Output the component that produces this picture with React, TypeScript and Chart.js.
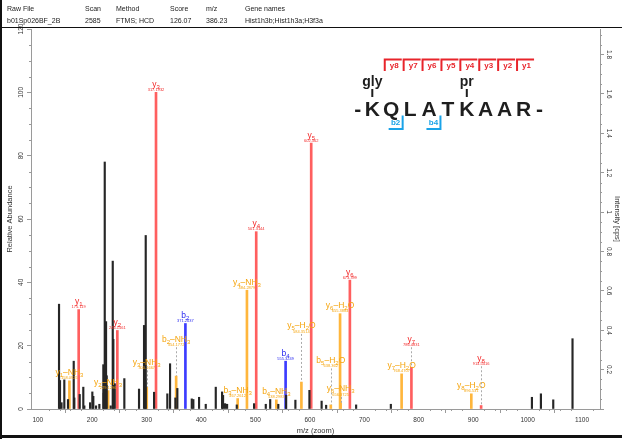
import React, { useEffect, useRef } from 'react';
import { Chart, registerables } from 'chart.js';

Chart.register(...registerables);

// ---------------- data ----------------
// unannotated peaks (m/z, relative abundance %)
const otherMz = [
  139.0, 140.8, 143.6, 148.7, 155.5, 166.0, 167.1, 177.0, 183.6, 185.5,
  196.0, 200.2, 202.0, 207.0, 213.1, 220.4, 221.1, 223.0, 225.4, 226.6,
  234.0, 237.7, 238.8, 241.4, 259.0, 286.0, 295.2, 298.3, 297.6, 313.6,
  338.0, 343.0, 352.8, 356.4, 382.9, 385.8, 396.3, 408.6, 427.0, 438.6,
  440.4, 444.1, 447.8, 465.6, 497.4, 518.9, 527.0, 541.9, 556.3, 573.3,
  599.1, 621.5, 629.8, 684.9, 748.7, 1007.9, 1024.4, 1047.1, 1082.5,
];
const otherInt = [
  33.1, 9.0, 2.0, 9.2, 3.0, 15.1, 3.5, 4.6, 6.9, 1.0,
  2.0, 5.4, 4.0, 1.0, 1.5, 14.0, 5.0, 78.0, 27.6, 10.5,
  1.0, 46.7, 22.0, 8.0, 9.6, 6.3, 26.4, 54.8, 9.0, 5.3,
  4.8, 14.3, 3.5, 6.5, 3.2, 3.0, 3.7, 1.5, 6.9, 5.4,
  4.3, 1.7, 1.5, 1.3, 1.7, 1.5, 3.0, 1.5, 4.3, 2.8,
  5.9, 2.5, 1.2, 1.3, 1.5, 3.7, 4.8, 2.9, 22.2,
];

// y ions
const yIonNames = ['y1', 'y2', 'y3', 'y4', 'y5', 'y6', 'y7', 'y8'];
const yIonMz = [175.119, 246.1561, 317.1932, 501.3144, 602.362, 673.399, 786.4831, 914.5416];
const yIonInt = [31.4, 24.8, 100, 56.0, 84.0, 40.7, 13.2, 1.1];
const yIonLabelAt: (number | null)[] = [null, null, null, null, null, null, 19.5, 13.5];

// b ions
const bIonNames = ['b2', 'b4'];
const bIonMz = [371.2037, 555.3249];
const bIonInt = [27.0, 15.1];
const bIonLabelAt: (number | null)[] = [null, null];

// neutral-loss ions
const lossNames = ['y1-NH3', 'y2-NH3', 'y3-NH3', 'b2-NH3', 'b3-NH3', 'y4-NH3', 'b4-NH3', 'y5-H2O', 'b5-H2O', 'y6-NH3', 'y6-H2O', 'y7-H2O', 'y8-H2O'];
const lossMz = [158.0925, 229.1296, 300.1667, 354.1772, 467.2612, 484.2879, 538.2983, 584.3514, 638.362, 656.3725, 655.3884, 768.4707, 896.531];
const lossInt = [8.9, 5.8, 6.9, 10.4, 3.3, 37.5, 2.9, 8.5, 1.3, 2.0, 30.1, 11.1, 4.8];
const lossLabelAt: (number | null)[] = [null, null, 12.2, 19.5, null, null, null, 23.7, 12.8, 3.8, null, null, null];

// peptide
const peptideSeq = ['K', 'Q', 'L', 'A', 'T', 'K', 'A', 'A', 'R'];
const modPositions = [0, 5];
const modNames = ['gly', 'pr'];
const yObserved = [8, 7, 6, 5, 4, 3, 2, 1];
const bObserved = [2, 4];

// header table
const headerCols = ['Raw File', 'Scan', 'Method', 'Score', 'm/z', 'Gene names'];
const headerVals = ['b01Sp026BF_2B', '2585', 'FTMS; HCD', '126.07', '386.23', 'Hist1h3b;Hist1h3a;H3f3a'];

// ---------------- styles ----------------
const FONT = '"Liberation Sans", Arial, sans-serif';
const RED_BAR = 'rgb(255,95,95)';
const RED_TXT = 'rgb(242,40,40)';
const ORA_BAR = 'rgb(255,182,60)';
const ORA_TXT = 'rgb(245,165,15)';
const BLU_BAR = 'rgb(60,60,255)';
const BLU_TXT = 'rgb(40,40,240)';
const AXIS = '#9a9a9a';

const fmtMass = (v: number) => String(parseFloat(v.toFixed(4)));

function drawIonName(ctx: CanvasRenderingContext2D, name: string, cx: number, baseY: number, color: string) {
  const m = name.match(/^([a-z])(\d+)(?:-(.+))?$/);
  if (!m) return;
  const segs: { t: string; sub: boolean }[] = [{ t: m[1], sub: false }, { t: m[2], sub: true }];
  if (m[3]) {
    segs.push({ t: '\u2013', sub: false });
    for (const ch of m[3]) {
      const isDigit = /\d/.test(ch);
      const last = segs[segs.length - 1];
      if (last.sub === isDigit && segs.length > 2) last.t += ch;
      else segs.push({ t: ch, sub: isDigit });
    }
  }
  const big = `8.5px ${FONT}`;
  const small = `6px ${FONT}`;
  let total = 0;
  const widths = segs.map((s) => {
    ctx.font = s.sub ? small : big;
    const w = ctx.measureText(s.t).width;
    total += w;
    return w;
  });
  let x = cx - total / 2;
  ctx.fillStyle = color;
  ctx.textAlign = 'left';
  ctx.textBaseline = 'alphabetic';
  segs.forEach((s, i) => {
    ctx.font = s.sub ? small : big;
    ctx.fillText(s.t, x, baseY + (s.sub ? 2 : 0));
    x += widths[i];
  });
}

const ionLabelPlugin = {
  id: 'ionLabels',
  afterDatasetsDraw(chart: any) {
    const { ctx, scales } = chart;
    const xs = scales.x;
    const ys = scales.y;
    const groups = [
      { names: lossNames, mz: lossMz, int: lossInt, at: lossLabelAt, color: ORA_TXT },
      { names: bIonNames, mz: bIonMz, int: bIonInt, at: bIonLabelAt, color: BLU_TXT },
      { names: yIonNames, mz: yIonMz, int: yIonInt, at: yIonLabelAt, color: RED_TXT },
    ];
    ctx.save();
    for (const g of groups) {
      g.names.forEach((name, i) => {
        const px = xs.getPixelForValue(g.mz[i]);
        const peakPx = ys.getPixelForValue(g.int[i]);
        const lvl = g.at[i];
        const basePx = lvl == null ? peakPx : ys.getPixelForValue(lvl);
        if (lvl != null && lvl - g.int[i] > 1.5) {
          ctx.save();
          ctx.strokeStyle = '#aaaaaa';
          ctx.lineWidth = 1;
          ctx.setLineDash([2, 2]);
          ctx.beginPath();
          ctx.moveTo(Math.round(px) + 0.5, basePx);
          ctx.lineTo(Math.round(px) + 0.5, peakPx);
          ctx.stroke();
          ctx.restore();
        }
        ctx.fillStyle = g.color;
        ctx.font = `4px ${FONT}`;
        ctx.textAlign = 'center';
        ctx.textBaseline = 'middle';
        ctx.fillText(fmtMass(g.mz[i]), px, basePx - 2.5);
        drawIonName(ctx, name, px, basePx - 5.5, g.color);
      });
    }
    ctx.restore();
  },
};

const minorTickPlugin = {
  id: 'minorTicks',
  afterDraw(chart: any) {
    const { ctx, scales, chartArea } = chart;
    ctx.save();
    ctx.strokeStyle = AXIS;
    ctx.lineWidth = 1;
    ctx.beginPath();
    const xs = scales.x;
    for (let v = Math.ceil(xs.min / 20) * 20; v <= xs.max; v += 20) {
      if (v % 100 === 0) continue;
      const p = Math.round(xs.getPixelForValue(v)) + 0.5;
      ctx.moveTo(p, chartArea.bottom);
      ctx.lineTo(p, chartArea.bottom + 2);
    }
    const ys = scales.y;
    for (let v = 0; v <= ys.max; v += 5) {
      if (v % 20 === 0) continue;
      const p = Math.round(ys.getPixelForValue(v)) + 0.5;
      ctx.moveTo(chartArea.left, p);
      ctx.lineTo(chartArea.left - 2, p);
    }
    const y2 = scales.y2;
    for (let k = 0; k * 0.05 <= y2.max; k++) {
      if (k % 4 === 0) continue;
      const p = Math.round(y2.getPixelForValue(k * 0.05)) + 0.5;
      ctx.moveTo(chartArea.right, p);
      ctx.lineTo(chartArea.right + 2, p);
    }
    ctx.stroke();
    ctx.restore();
  },
};

const peptidePlugin = {
  id: 'peptide',
  afterDraw(chart: any) {
    const { ctx } = chart;
    const x0 = 372.3;
    const pitch = 18.9;
    const base = 115.5;
    const L = peptideSeq.map((_, i) => x0 + i * pitch);
    ctx.save();
    ctx.fillStyle = '#1e1e1e';
    ctx.textAlign = 'center';
    ctx.textBaseline = 'alphabetic';
    ctx.font = `bold 21px ${FONT}`;
    peptideSeq.forEach((aa, i) => ctx.fillText(aa, L[i], base));
    ctx.fillText('-', L[0] - 14.5, base);
    ctx.fillText('-', L[L.length - 1] + 16, base);
    // modifications
    ctx.font = `bold 14px ${FONT}`;
    modPositions.forEach((p, i) => {
      ctx.fillText(modNames[i], L[p], 86);
      ctx.fillRect(L[p] - 1, 89, 2, 8);
    });
    // y brackets
    ctx.lineWidth = 2;
    ctx.strokeStyle = 'rgb(232,36,43)';
    ctx.fillStyle = 'rgb(232,36,43)';
    ctx.font = `bold 8px ${FONT}`;
    yObserved.forEach((n) => {
      const i = peptideSeq.length - n;
      const vx = (L[i - 1] + L[i]) / 2 + 3;
      ctx.beginPath();
      ctx.moveTo(vx, 71);
      ctx.lineTo(vx, 59.5);
      ctx.lineTo(vx + 17, 59.5);
      ctx.stroke();
      ctx.fillText('y' + n, vx + 9.5, 68);
    });
    // b brackets
    ctx.strokeStyle = 'rgb(26,163,232)';
    ctx.fillStyle = 'rgb(26,163,232)';
    bObserved.forEach((n) => {
      const vx = (L[n - 1] + L[n]) / 2 + 2;
      ctx.beginPath();
      ctx.moveTo(vx, 115.5);
      ctx.lineTo(vx, 129);
      ctx.lineTo(vx - 14, 129);
      ctx.stroke();
      ctx.fillText('b' + n, vx - 7, 125);
    });
    ctx.restore();
  },
};

export default function App() {
  const ref = useRef<HTMLCanvasElement | null>(null);

  useEffect(() => {
    if (!ref.current) return;
    const toXY = (mz: number[], it: number[]) => mz.map((x, i) => ({ x, y: it[i] }));
    const chart = new Chart(ref.current, {
      type: 'bar',
      data: {
        datasets: [
          { label: 'other', data: toXY(otherMz, otherInt), backgroundColor: '#262626', barThickness: 1.5, grouped: false } as any,
          { label: 'loss', data: toXY(lossMz, lossInt), backgroundColor: ORA_BAR, barThickness: 2, grouped: false } as any,
          { label: 'b', data: toXY(bIonMz, bIonInt), backgroundColor: BLU_BAR, barThickness: 2, grouped: false } as any,
          { label: 'y', data: toXY(yIonMz, yIonInt), backgroundColor: RED_BAR, barThickness: 2, grouped: false } as any,
        ],
      },
      options: {
        animation: false,
        responsive: false,
        maintainAspectRatio: false,
        layout: { padding: { top: 29, left: 0, right: 0, bottom: 0 } },
        plugins: { legend: { display: false }, tooltip: { enabled: false } },
        scales: {
          x: {
            type: 'linear',
            min: 87.5,
            max: 1133,
            offset: false,
            grid: { drawOnChartArea: false, tickLength: 4, color: AXIS },
            border: { color: AXIS },
            ticks: {
              stepSize: 100,
              includeBounds: false,
              autoSkip: false,
              maxRotation: 0,
              padding: 3,
              color: '#333',
              font: { family: FONT, size: 6.5 },
              callback: (v: any) => String(v),
            },
            title: { display: true, text: 'm/z (zoom)', color: '#333', font: { family: FONT, size: 7.5 }, padding: { top: 0, bottom: 3.5 } },
            afterFit: (s: any) => { s.height = 30; },
          },
          y: {
            position: 'left',
            min: 0,
            max: 120,
            grid: { drawOnChartArea: false, tickLength: 4, color: AXIS },
            border: { color: AXIS },
            ticks: {
              stepSize: 20,
              autoSkip: false,
              minRotation: 90,
              maxRotation: 90,
              crossAlign: 'center',
              padding: 0,
              color: '#333',
              font: { family: FONT, size: 6.5 },
            },
            title: { display: true, text: 'Relative Abundance', color: '#333', font: { family: FONT, size: 7.5 }, padding: { top: 5.5, bottom: 0 } },
            afterFit: (s: any) => { s.width = 31; },
          },
          y2: {
            position: 'right',
            min: 0,
            max: 1.93,
            grid: { drawOnChartArea: false, tickLength: 4, color: AXIS },
            border: { color: AXIS },
            ticks: {
              stepSize: 0.2,
              autoSkip: false,
              includeBounds: false,
              minRotation: -90,
              maxRotation: -90,
              crossAlign: 'center',
              padding: 0,
              color: '#333',
              font: { family: FONT, size: 6.5 },
              callback: (v: any) => (Number(v) === 0 ? '' : String(Math.round(Number(v) * 10) / 10)),
            },
            title: { display: true, text: 'Intensity [cps]', color: '#333', font: { family: FONT, size: 7.5 }, padding: { top: 0, bottom: 0 } },
            afterFit: (s: any) => { s.width = 22; },
          },
        },
      } as any,
      plugins: [minorTickPlugin, ionLabelPlugin, peptidePlugin],
    });
    return () => chart.destroy();
  }, []);

  const colX = [7, 85, 116, 170, 206, 245];
  return (
    <div style={{ position: 'absolute', left: 0, top: 0, width: 622, height: 439, background: '#fff', overflow: 'hidden' }}>
      <canvas ref={ref} width={622} height={439} style={{ position: 'absolute', left: 0, top: 0, width: 622, height: 439 }} />
      {headerCols.map((t, i) => (
        <div key={'h' + i} style={{ position: 'absolute', left: colX[i], top: 4.5, fontFamily: FONT, fontSize: 7, lineHeight: '8px', color: '#222', whiteSpace: 'nowrap' }}>{t}</div>
      ))}
      {headerVals.map((t, i) => (
        <div key={'v' + i} style={{ position: 'absolute', left: colX[i], top: 16.5, fontFamily: FONT, fontSize: 7, lineHeight: '8px', color: '#222', whiteSpace: 'nowrap' }}>{t}</div>
      ))}
      <div style={{ position: 'absolute', left: 0, top: 26.5, width: 622, height: 1.5, background: '#111' }} />
      <div style={{ position: 'absolute', left: 0, top: 0, width: 2, height: 439, background: '#111' }} />
      <div style={{ position: 'absolute', left: 0, top: 435, width: 622, height: 3, background: '#111' }} />
    </div>
  );
}
